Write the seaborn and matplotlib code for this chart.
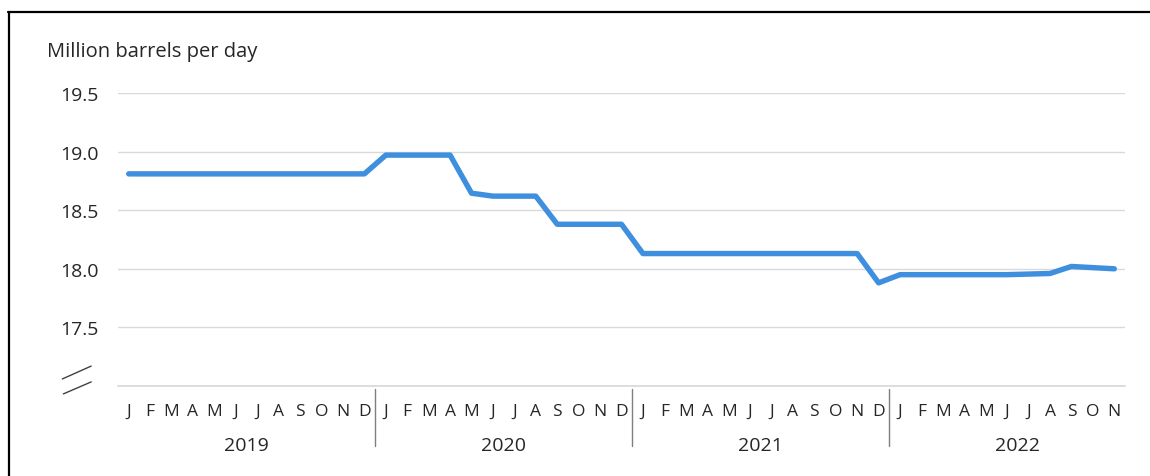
import matplotlib
matplotlib.use("Agg")
import matplotlib.pyplot as plt
import matplotlib.transforms as mtransforms
from matplotlib.lines import Line2D
import seaborn as sns
import pandas as pd

# --- data ---
years = ["2019", "2020", "2021", "2022"]
month_letters = ["J", "F", "M", "A", "M", "J", "J", "A", "S", "O", "N", "D"]
months_2022 = 11

prod_2019 = [18.81] * 12
prod_2020 = [18.97, 18.97, 18.97, 18.97, 18.645, 18.62, 18.62, 18.62, 18.38, 18.38, 18.38, 18.38]
prod_2021 = [18.13] * 11 + [17.88]
prod_2022 = [17.95, 17.95, 17.95, 17.95, 17.95, 17.95, 17.955, 17.96, 18.02, 18.01, 18.0]

yticks = [17.5, 18.0, 18.5, 19.0, 19.5]

values = prod_2019 + prod_2020 + prod_2021 + prod_2022
labels = month_letters * 3 + month_letters[:months_2022]
df = pd.DataFrame({"idx": range(len(values)), "mbd": values})

sns.set_theme(style="white")
plt.rcParams["font.family"] = ["Open Sans", "DejaVu Sans"]

fig = plt.figure(figsize=(11.5, 4.77), dpi=100)
ax = fig.add_axes([118 / 1150, 1 - 387 / 477, (1125 - 118) / 1150, (387 - 94) / 477])

sns.lineplot(data=df, x="idx", y="mbd", ax=ax, color="#3f8fdf", linewidth=3.9)

ax.set_xlim(-0.5, len(values) - 0.5)
ax.set_ylim(17.0, 19.5)
ax.set_yticks([17.0] + yticks)
ax.set_yticklabels([""] + [f"{v:.1f}" for v in yticks], fontsize=14, color="#262626")
ax.yaxis.grid(True, color="#d9d9d9", linewidth=1)
ax.set_xticks(range(len(values)))
ax.set_xticklabels(labels, fontsize=12.5, color="#262626")
ax.tick_params(axis="both", length=0)
ax.tick_params(axis="y", pad=14)
ax.tick_params(axis="x", pad=12)
ax.set_xlabel("")
ax.set_ylabel("")
for s in ["top", "right", "left"]:
    ax.spines[s].set_visible(False)
ax.spines["bottom"].set_color("#d9d9d9")

# year labels and dividers
trans = mtransforms.blended_transform_factory(ax.transData, ax.transAxes)
for i, yr in enumerate(years):
    ax.text(i * 12 + 5.5, -0.2, yr, transform=trans, ha="center", va="center",
            fontsize=14, color="#262626")
    if i > 0:
        ax.add_line(Line2D([i * 12 - 0.5] * 2, [-0.01, -0.205], transform=trans,
                           color="#7f7f7f", linewidth=1, clip_on=False))

# axis break marks
ax.add_line(Line2D([-3.1, -1.75], [0.024, 0.068], transform=trans, color="#404040",
                   linewidth=1, clip_on=False))
ax.add_line(Line2D([-3.05, -1.75], [-0.027, 0.014], transform=trans, color="#404040",
                   linewidth=1, clip_on=False))

fig.text(47 / 1150, 1 - 52 / 477, "Million barrels per day", fontsize=14.5,
         color="#262626", va="center", ha="left")

# frame lines of the original screenshot
fig.add_artist(Line2D([8 / 1150, 1], [1 - 13 / 477] * 2, color="black", linewidth=1.6))
fig.add_artist(Line2D([9 / 1150] * 2, [0, 1 - 13 / 477], color="black", linewidth=1.6))

fig.savefig("out.png", dpi=100)
